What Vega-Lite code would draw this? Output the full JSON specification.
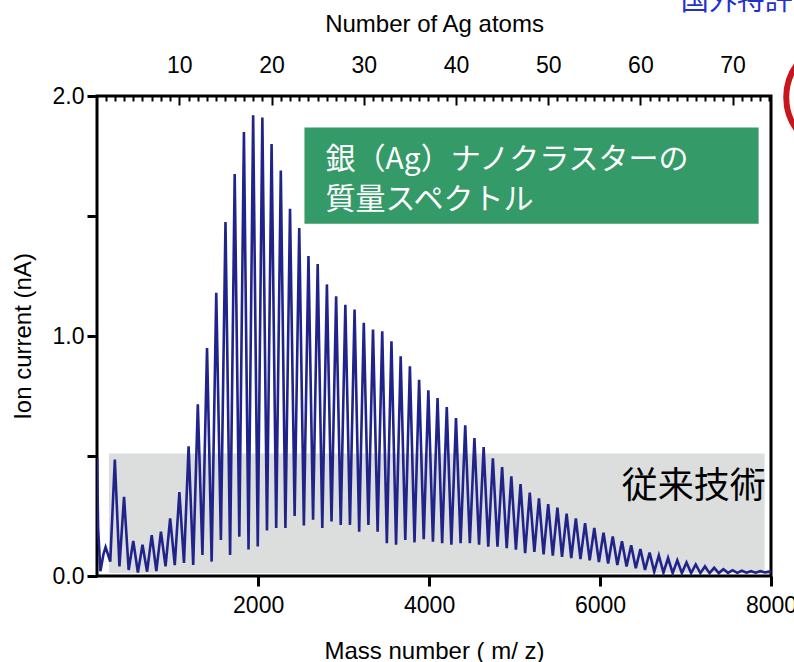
{
  "$schema": "https://vega.github.io/schema/vega-lite/v6.json",
  "width": 674,
  "height": 480,
  "autosize": {"type": "none"},
  "padding": {"left": 97, "top": 96, "right": 23, "bottom": 86},
  "background": "white",
  "config": {
    "view": {"stroke": "black", "strokeWidth": 3},
    "axis": {
      "labelFont": "Liberation Sans", "titleFont": "Liberation Sans",
      "labelColor": "black", "titleColor": "black", "tickColor": "black",
      "labelFontSize": 23, "titleFontSize": 24, "titleFontWeight": "normal",
      "grid": false, "domain": false
    }
  },
  "datasets": {
    "spectrum": [
      {"m":116,"c":0.49},{"m":128,"c":0.2},{"m":155,"c":0.02},{"m":190,"c":0.09},{"m":215.7,"c":0.12},{"m":270,"c":0.06},
      {"m":323.6,"c":0.485},{"m":377.5,"c":0.04},{"m":431.5,"c":0.33},{"m":485.4,"c":0.025},
      {"m":539.4,"c":0.146},{"m":593.3,"c":0.014},{"m":647.2,"c":0.13},{"m":701.2,"c":0.018},
      {"m":755.1,"c":0.17},{"m":809.0,"c":0.02},{"m":863.0,"c":0.185},{"m":916.9,"c":0.04},
      {"m":970.8,"c":0.24},{"m":1024.8,"c":0.045},{"m":1078.7,"c":0.35},{"m":1132.6,"c":0.054},
      {"m":1186.6,"c":0.54},{"m":1240.5,"c":0.046},{"m":1294.4,"c":0.715},{"m":1348.4,"c":0.088},
      {"m":1402.3,"c":0.95},{"m":1456.2,"c":0.06},{"m":1510.2,"c":1.18},{"m":1564.1,"c":0.15},
      {"m":1618.1,"c":1.475},{"m":1672.0,"c":0.088},{"m":1725.9,"c":1.675},{"m":1779.9,"c":0.164},
      {"m":1833.8,"c":1.85},{"m":1887.7,"c":0.11},{"m":1941.7,"c":1.92},{"m":1995.6,"c":0.123},
      {"m":2049.5,"c":1.91},{"m":2103.5,"c":0.19},{"m":2157.4,"c":1.80},{"m":2211.3,"c":0.2},
      {"m":2265.3,"c":1.69},{"m":2319.2,"c":0.2},{"m":2373.1,"c":1.53},{"m":2427.1,"c":0.25},
      {"m":2481.0,"c":1.45},{"m":2535.0,"c":0.21},{"m":2588.9,"c":1.333},{"m":2642.8,"c":0.234},
      {"m":2696.8,"c":1.30},{"m":2750.7,"c":0.2},{"m":2804.6,"c":1.215},{"m":2858.6,"c":0.227},
      {"m":2912.5,"c":1.166},{"m":2966.4,"c":0.213},{"m":3020.4,"c":1.13},{"m":3074.3,"c":0.213},
      {"m":3128.2,"c":1.11},{"m":3182.2,"c":0.185},{"m":3236.1,"c":1.055},{"m":3290.0,"c":0.213},
      {"m":3344.0,"c":1.027},{"m":3397.9,"c":0.185},{"m":3451.8,"c":1.02},{"m":3505.8,"c":0.137},
      {"m":3559.7,"c":0.978},{"m":3613.6,"c":0.13},{"m":3667.6,"c":0.916},{"m":3721.5,"c":0.15},
      {"m":3775.5,"c":0.874},{"m":3829.4,"c":0.14},{"m":3883.3,"c":0.818},{"m":3937.3,"c":0.153},
      {"m":3991.2,"c":0.774},{"m":4045.1,"c":0.143},{"m":4099.1,"c":0.742},{"m":4153.0,"c":0.137},
      {"m":4206.9,"c":0.704},{"m":4260.9,"c":0.13},{"m":4314.8,"c":0.658},{"m":4368.7,"c":0.137},
      {"m":4422.7,"c":0.628},{"m":4476.6,"c":0.137},{"m":4530.5,"c":0.575},{"m":4584.5,"c":0.13},
      {"m":4638.4,"c":0.537},{"m":4692.3,"c":0.122},{"m":4746.3,"c":0.49},{"m":4800.2,"c":0.122},
      {"m":4854.2,"c":0.454},{"m":4908.1,"c":0.116},{"m":4962.0,"c":0.415},{"m":5016.0,"c":0.11},
      {"m":5069.9,"c":0.383},{"m":5123.8,"c":0.095},{"m":5177.8,"c":0.348},{"m":5231.7,"c":0.10},
      {"m":5285.6,"c":0.324},{"m":5339.6,"c":0.09},{"m":5393.5,"c":0.30},{"m":5447.4,"c":0.085},
      {"m":5501.4,"c":0.285},{"m":5555.3,"c":0.08},{"m":5609.2,"c":0.26},{"m":5663.2,"c":0.075},
      {"m":5717.1,"c":0.24},{"m":5771.0,"c":0.07},{"m":5825.0,"c":0.22},{"m":5878.9,"c":0.065},
      {"m":5932.9,"c":0.20},{"m":5986.8,"c":0.058},{"m":6040.7,"c":0.18},{"m":6094.7,"c":0.052},
      {"m":6148.6,"c":0.165},{"m":6202.5,"c":0.046},{"m":6256.5,"c":0.145},{"m":6310.4,"c":0.04},
      {"m":6364.3,"c":0.128},{"m":6418.3,"c":0.032},{"m":6472.2,"c":0.112},{"m":6526.1,"c":0.025},
      {"m":6580.1,"c":0.098},{"m":6634.0,"c":0.018},{"m":6687.9,"c":0.086},{"m":6741.9,"c":0.014},
      {"m":6795.8,"c":0.075},{"m":6849.7,"c":0.012},{"m":6903.7,"c":0.065},{"m":6957.6,"c":0.012},
      {"m":7011.6,"c":0.056},{"m":7065.5,"c":0.012},{"m":7119.4,"c":0.048},{"m":7173.4,"c":0.012},
      {"m":7227.3,"c":0.04},{"m":7281.2,"c":0.012},{"m":7335.2,"c":0.034},{"m":7389.1,"c":0.012},
      {"m":7443.0,"c":0.028},{"m":7497.0,"c":0.013},{"m":7550.9,"c":0.024},{"m":7604.8,"c":0.013},
      {"m":7658.8,"c":0.022},{"m":7712.7,"c":0.014},{"m":7766.6,"c":0.02},{"m":7820.6,"c":0.014},
      {"m":7874.5,"c":0.02},{"m":7928.4,"c":0.015},{"m":7982.4,"c":0.018},{"m":8000,"c":0.016}
    ]
  },
  "resolve": {"axis": {"x": "independent", "y": "independent"}},
  "layer": [
    {
      "data": {"values": [{"x1": 255, "x2": 7925, "y1": 0.013, "y2": 0.51}]},
      "mark": {"type": "rect", "color": "#dcdddd"},
      "encoding": {
        "x": {"field": "x1", "type": "quantitative",
              "scale": {"domain": [115, 8000], "nice": false, "zero": false},
              "axis": {"orient": "bottom", "values": [2000, 4000, 6000, 8000], "format": "d",
                       "tickSize": 10, "tickWidth": 3, "labelPadding": 8, "labelFlush": false,
                       "title": "Mass number ( m/ z)", "titlePadding": 22}},
        "x2": {"field": "x2"},
        "y": {"field": "y1", "type": "quantitative",
              "scale": {"domain": [0, 2], "nice": false},
              "axis": {"orient": "left", "values": [0, 0.5, 1, 1.5, 2], "tickSize": 10, "tickWidth": 3,
                       "labelPadding": 3,
                       "labelExpr": "datum.value % 1 === 0 ? format(datum.value, '.1f') : ''",
                       "title": "Ion current (nA)", "titlePadding": 17}},
        "y2": {"field": "y2"}
      }
    },
    {
      "data": {"name": "spectrum"},
      "mark": {"type": "line", "color": "#20248a", "strokeWidth": 2.6, "clip": true},
      "encoding": {
        "x": {"field": "m", "type": "quantitative",
              "axis": {"orient": "top",
                       "values": [215.74,323.61,431.48,539.35,647.22,755.09,862.96,970.83,1078.7,1186.57,1294.44,1402.31,1510.18,1618.05,1725.92,1833.79,1941.66,2049.53,2157.4,2265.27,2373.14,2481.01,2588.88,2696.75,2804.62,2912.49,3020.36,3128.23,3236.1,3343.97,3451.84,3559.71,3667.58,3775.45,3883.32,3991.19,4099.06,4206.93,4314.8,4422.67,4530.54,4638.41,4746.28,4854.15,4962.02,5069.89,5177.76,5285.63,5393.5,5501.37,5609.24,5717.11,5824.98,5932.85,6040.72,6148.59,6256.46,6364.33,6472.2,6580.07,6687.94,6795.81,6903.68,7011.55,7119.42,7227.29,7335.16,7443.03,7550.9,7658.77,7766.64,7874.51,7982.38],
                       "tickSize": {"condition": {"test": "round(datum.value/107.87) % 10 === 0", "value": -9}, "value": -5},
                       "tickWidth": 2,
                       "labelExpr": "round(datum.value/107.87) % 10 === 0 ? format(round(datum.value/107.87), 'd') : ''",
                       "labelPadding": 28, "labelFlush": false, "labelOverlap": false,
                       "title": "Number of Ag atoms", "titlePadding": 14}},
        "y": {"field": "c", "type": "quantitative", "axis": null}
      }
    },
    {
      "data": {"values": [{"x1": 2542, "x2": 7855, "y1": 1.468, "y2": 1.869}]},
      "mark": {"type": "rect", "color": "#349a68"},
      "encoding": {
        "x": {"field": "x1", "type": "quantitative", "axis": null},
        "x2": {"field": "x2"},
        "y": {"field": "y1", "type": "quantitative", "axis": null},
        "y2": {"field": "y2"}
      }
    },
    {
      "data": {"values": [
        {"x": 2788, "y": 1.735, "t": "銀（Ag）ナノクラスターの"},
        {"x": 2788, "y": 1.568, "t": "質量スペクトル"}
      ]},
      "mark": {"type": "text", "align": "left", "baseline": "middle", "font": "Noto Sans CJK JP", "fontSize": 30, "color": "white"},
      "encoding": {
        "x": {"field": "x", "type": "quantitative", "axis": null},
        "y": {"field": "y", "type": "quantitative", "axis": null},
        "text": {"field": "t"}
      }
    },
    {
      "data": {"values": [{"x": 7940, "y": 0.371, "t": "従来技術"}]},
      "mark": {"type": "text", "align": "right", "baseline": "middle", "font": "Noto Sans CJK JP", "fontSize": 36, "color": "black"},
      "encoding": {
        "x": {"field": "x", "type": "quantitative", "axis": null},
        "y": {"field": "y", "type": "quantitative", "axis": null},
        "text": {"field": "t"}
      }
    },
    {
      "data": {"values": [{"x": 6945, "y": 2.392, "t": "国外特許"}]},
      "mark": {"type": "text", "align": "left", "baseline": "middle", "font": "Noto Sans CJK JP", "fontSize": 28, "color": "#1f2fd0"},
      "encoding": {
        "x": {"field": "x", "type": "quantitative", "axis": null},
        "y": {"field": "y", "type": "quantitative", "axis": null},
        "text": {"field": "t"}
      }
    },
    {
      "data": {"values": [{"x": 8819, "y": 1.995}]},
      "mark": {"type": "point", "shape": "circle", "size": 12000, "filled": false, "stroke": "#c8161d", "strokeWidth": 6, "opacity": 1},
      "encoding": {
        "x": {"field": "x", "type": "quantitative", "axis": null},
        "y": {"field": "y", "type": "quantitative", "axis": null}
      }
    }
  ]
}
